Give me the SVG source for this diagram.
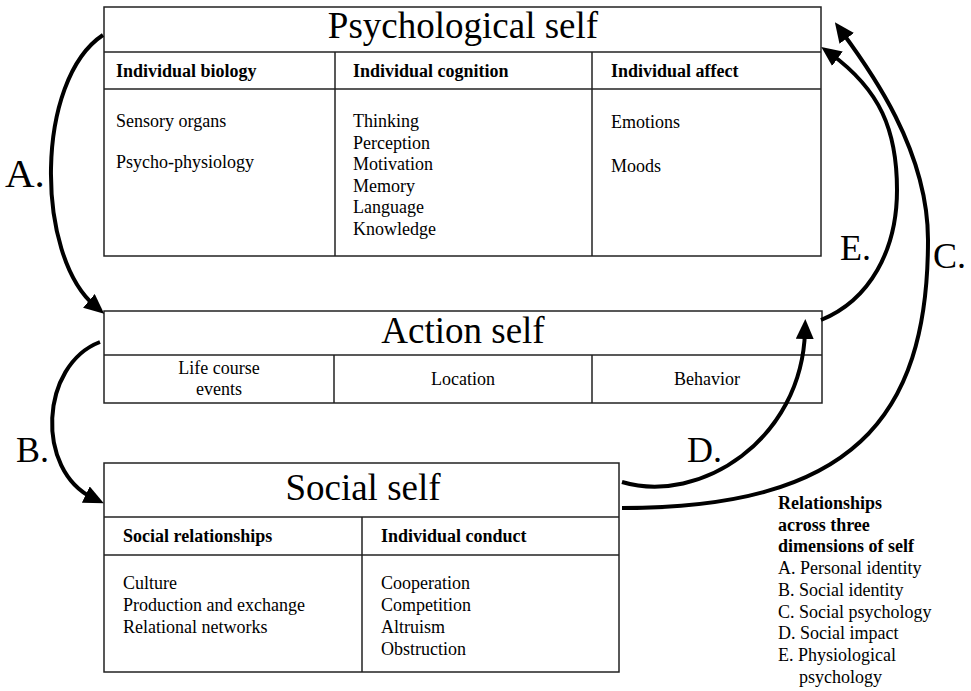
<svg xmlns="http://www.w3.org/2000/svg" width="971" height="691" viewBox="0 0 971 691">
<defs>
<style>
.box{fill:#fff;stroke:#222;stroke-width:1.5}
.ln{stroke:#222;stroke-width:1.5;fill:none}
text{font-family:"Liberation Serif","Times New Roman",serif;fill:#000}
.title{font-size:37px;text-anchor:middle}
.hd{font-size:18px;font-weight:bold}
.tx{font-size:18px}
.mid{text-anchor:middle}
.lab{font-size:36px}
.arr{fill:none;stroke:#000;stroke-width:4;marker-end:url(#ah)}
</style>
<marker id="ah" markerUnits="userSpaceOnUse" markerWidth="20" markerHeight="18" refX="8" refY="9" orient="auto" viewBox="0 0 20 18">
<path d="M0,0 L20,9 L0,18 z" fill="#000"/>
</marker>
</defs>
<rect width="971" height="691" fill="#fff"/>

<g id="psychological-self">
<rect class="box" x="104" y="7" width="717" height="249"/>
<line class="ln" x1="104" y1="52" x2="821" y2="52"/>
<line class="ln" x1="104" y1="89" x2="821" y2="89"/>
<line class="ln" x1="335" y1="52" x2="335" y2="256"/>
<line class="ln" x1="592" y1="52" x2="592" y2="256"/>
<text class="title" x="463" y="38">Psychological self</text>
<text class="hd" x="116" y="77">Individual biology</text>
<text class="hd" x="353" y="77">Individual cognition</text>
<text class="hd" x="611" y="77">Individual affect</text>
<text class="tx" x="116" y="127">Sensory organs</text>
<text class="tx" x="116" y="168">Psycho-physiology</text>
<text class="tx" x="353" y="127">Thinking</text>
<text class="tx" x="353" y="148.5">Perception</text>
<text class="tx" x="353" y="170">Motivation</text>
<text class="tx" x="353" y="191.5">Memory</text>
<text class="tx" x="353" y="213">Language</text>
<text class="tx" x="353" y="234.5">Knowledge</text>
<text class="tx" x="611" y="128">Emotions</text>
<text class="tx" x="611" y="172">Moods</text>
</g>

<g id="action-self">
<rect class="box" x="104" y="311" width="718" height="92"/>
<line class="ln" x1="104" y1="355" x2="822" y2="355"/>
<line class="ln" x1="334" y1="355" x2="334" y2="403"/>
<line class="ln" x1="592" y1="355" x2="592" y2="403"/>
<text class="title" x="463" y="343">Action self</text>
<text class="tx mid" x="219" y="374">Life course</text>
<text class="tx mid" x="219" y="395">events</text>
<text class="tx mid" x="463" y="385">Location</text>
<text class="tx mid" x="707" y="385">Behavior</text>
</g>

<g id="social-self">
<rect class="box" x="104" y="463" width="515" height="209"/>
<line class="ln" x1="104" y1="517" x2="619" y2="517"/>
<line class="ln" x1="104" y1="555" x2="619" y2="555"/>
<line class="ln" x1="362" y1="517" x2="362" y2="672"/>
<text class="title" x="363" y="500">Social self</text>
<text class="hd" x="123" y="542">Social relationships</text>
<text class="hd" x="381" y="542">Individual conduct</text>
<text class="tx" x="123" y="589">Culture</text>
<text class="tx" x="123" y="611">Production and exchange</text>
<text class="tx" x="123" y="633">Relational networks</text>
<text class="tx" x="381" y="589">Cooperation</text>
<text class="tx" x="381" y="611">Competition</text>
<text class="tx" x="381" y="633">Altruism</text>
<text class="tx" x="381" y="655">Obstruction</text>
</g>

<g id="connectors">
<path class="arr" d="M103,35 C35,80 35,255 95,306"/>
<path class="arr" d="M100,342 C40,365 35,470 93,498"/>
<path class="arr" d="M622,508 C850,508 928,420 928,240 C928,150 870,70 842,32"/>
<path class="arr" d="M622,482 C700,505 802,440 805,331"/>
<path class="arr" d="M821,320 C870,300 897,250 897,190 C897,130 880,90 831,54"/>
<text class="lab" x="5" y="187" style="font-size:41px">A.</text>
<text class="lab" x="16" y="462">B.</text>
<text class="lab" x="933" y="268">C.</text>
<text class="lab" x="687" y="462">D.</text>
<text class="lab" x="840" y="260">E.</text>
</g>

<g id="legend">
<text class="hd" x="778" y="509">Relationships</text>
<text class="hd" x="778" y="530.7">across three</text>
<text class="hd" x="778" y="552.4">dimensions of self</text>
<text class="tx" x="778" y="574">A. Personal identity</text>
<text class="tx" x="778" y="595.8">B. Social identity</text>
<text class="tx" x="778" y="617.5">C. Social psychology</text>
<text class="tx" x="778" y="639.2">D. Social impact</text>
<text class="tx" x="778" y="661">E. Physiological</text>
<text class="tx" x="799" y="682.6">psychology</text>
</g>
</svg>
